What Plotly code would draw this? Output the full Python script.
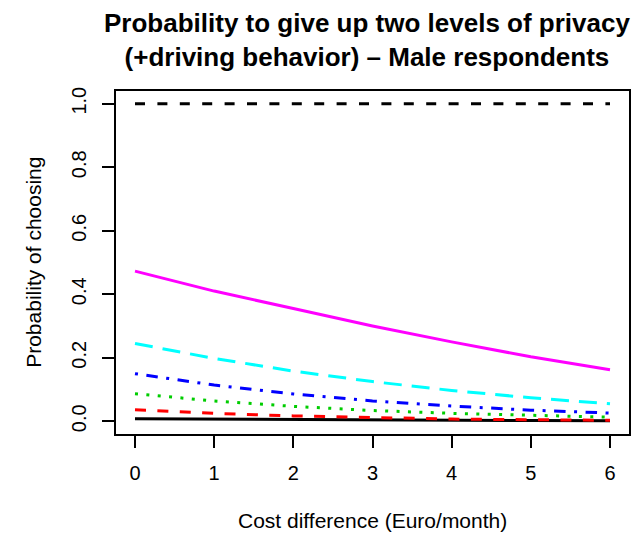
import plotly.graph_objects as go

# Data
cost = [0, 1, 2, 3, 4, 5, 6]
reference_one = [1.0, 1.0, 1.0, 1.0, 1.0, 1.0, 1.0]
black_series = [0.008, 0.0065, 0.005, 0.004, 0.003, 0.0025, 0.002]
red_series = [0.036, 0.025, 0.017, 0.011, 0.007, 0.005, 0.003]
green_series = [0.087, 0.064, 0.047, 0.034, 0.025, 0.018, 0.013]
blue_series = [0.150, 0.114, 0.086, 0.064, 0.048, 0.035, 0.026]
cyan_series = [0.245, 0.198, 0.158, 0.125, 0.097, 0.074, 0.055]
magenta_series = [0.473, 0.410, 0.355, 0.300, 0.250, 0.203, 0.162]

x_ticks = [0, 1, 2, 3, 4, 5, 6]
y_ticks = [0.0, 0.2, 0.4, 0.6, 0.8, 1.0]
y_tick_labels = ["0.0", "0.2", "0.4", "0.6", "0.8", "1.0"]

title_text = "<b>Probability to give up two levels of privacy<br>(+driving behavior) – Male respondents</b>"
x_title = "Cost difference (Euro/month)"
y_title = "Probability of choosing"

FONT = "Liberation Sans, Arial, Helvetica, sans-serif"

series = [
    (reference_one, "black", "10px,12.4px"),
    (black_series, "black", "solid"),
    (red_series, "#FF0000", "11px,11.4px"),
    (green_series, "#00CD00", "3px,8.4px"),
    (blue_series, "#0000FF", "3px,8.5px,11.5px,8.5px"),
    (cyan_series, "#00FFFF", "18px,10px"),
    (magenta_series, "#FF00FF", "solid"),
]

fig = go.Figure()
for ys, col, dash in series:
    fig.add_trace(go.Scatter(x=cost, y=ys, mode="lines",
                             line=dict(color=col, width=3, dash=dash),
                             showlegend=False, hoverinfo="skip"))

TOP, BOTTOM = 91, 434
PH = BOTTOM - TOP

fig.update_layout(
    width=643, height=533,
    margin=dict(l=116, r=12, t=TOP, b=533 - BOTTOM),
    paper_bgcolor="white", plot_bgcolor="white",
    font=dict(family=FONT, color="black"),
    xaxis=dict(
        range=[-0.24, 6.24], tickvals=x_ticks, ticks="outside", ticklen=12,
        tickwidth=1.5, tickcolor="black", showgrid=False, zeroline=False,
        showline=True, mirror=True, linecolor="black", linewidth=1.5,
        tickfont=dict(size=20, family=FONT, color="black"),
        ticklabelstandoff=8,
    ),
    yaxis=dict(
        range=[-0.04, 1.04], tickvals=y_ticks, ticktext=y_tick_labels,
        tickangle=-90, ticks="outside", ticklen=12,
        tickwidth=1.5, tickcolor="black", showgrid=False, zeroline=False,
        showline=True, mirror=True, linecolor="black", linewidth=1.5,
        tickfont=dict(size=20, family=FONT, color="black"),
        ticklabelstandoff=8,
    ),
    annotations=[
        dict(text=title_text, xref="paper", yref="paper",
             x=0.49, y=(BOTTOM - 40) / PH, xanchor="center", yanchor="middle",
             showarrow=False, font=dict(size=26, family=FONT, color="black")),
        dict(text=x_title, xref="paper", yref="paper",
             x=0.5, y=(BOTTOM - 520) / PH, xanchor="center", yanchor="middle",
             showarrow=False, font=dict(size=21, family=FONT, color="black")),
        dict(text=y_title, xref="paper", yref="paper",
             x=(33 - 116) / 515, y=0.5, xanchor="center", yanchor="middle",
             textangle=-90, showarrow=False,
             font=dict(size=21, family=FONT, color="black")),
    ],
)

fig.write_html("out.html")
